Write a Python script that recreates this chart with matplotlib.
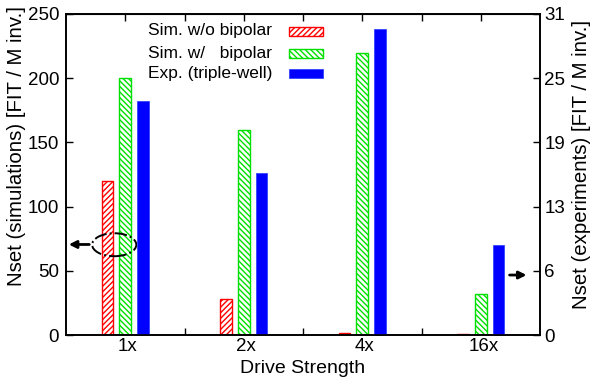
import matplotlib
matplotlib.use("Agg")
import matplotlib.pyplot as plt
from matplotlib.patches import Ellipse, Rectangle
import matplotlib.transforms as mtransforms
import numpy as np

plt.rcParams['font.family'] = ['Liberation Sans', 'DejaVu Sans']
plt.rcParams['font.size'] = 14
plt.rcParams['hatch.linewidth'] = 1.0

categories = ["1x", "2x", "4x", "16x"]
sim_wo_bipolar = [120, 28, 1.3, 0.4]
sim_w_bipolar = [200, 160, 220, 32]
exp_triple_well = [22.8, 15.75, 29.75, 8.75]
right_tick_labels = ["0", "6", "13", "19", "25", "31"]
legend_labels = ["Sim. w/o bipolar", "Sim. w/   bipolar", "Exp. (triple-well)"]

W, H = 590, 383
fig = plt.figure(figsize=(W / 100, H / 100), dpi=100)
ax = fig.add_axes([66 / W, 1 - 335 / H, 474 / W, 321 / H])
ax2 = ax.twinx()

x = np.arange(len(categories))
off = 0.15
w = 0.10

red_style = dict(facecolor='white', edgecolor='#ff0000', hatch='//////', linewidth=1.0)
green_style = dict(facecolor='white', edgecolor='#00e000', hatch='\\\\\\\\\\\\', linewidth=1.0)
blue_style = dict(facecolor='#0000ff', edgecolor='#3344ff', linewidth=0.6)

ax.bar(x - off, sim_wo_bipolar, w, **red_style)
ax.bar(x, sim_w_bipolar, w, **green_style)
ax2.bar(x + off, exp_triple_well, w, **blue_style)

ax.set_xlim(-0.5, 3.5)
ax.set_ylim(0, 250)
ax2.set_ylim(0, 31.25)

TL = 13.5
ax.set_yticks(np.arange(0, 251, 50))
ax.tick_params(axis='y', direction='in', length=5, width=1, labelsize=TL, pad=5)
ax2.set_yticks(np.linspace(0, 31.25, 6))
ax2.set_yticklabels(right_tick_labels)
ax2.tick_params(axis='y', direction='in', length=5, width=1, labelsize=TL, pad=3)

ax.set_xticks(x)
ax.set_xticklabels(categories)
ax.tick_params(axis='x', which='major', length=0, pad=2.5, labelsize=TL)
shift = mtransforms.ScaledTranslation(2.5 / 100, 0, fig.dpi_scale_trans)
for lab in ax.get_xticklabels():
    lab.set_transform(lab.get_transform() + shift)
ax.set_xticks([0.5, 1.5, 2.5], minor=True)
ax.tick_params(axis='x', which='minor', direction='in', length=5, width=1)
ax.tick_params(axis='y', which='minor', left=False)

secx = ax.secondary_xaxis('top')
secx.set_xticks(np.arange(0, 3.01, 0.5))
secx.set_xticklabels([])
secx.tick_params(direction='in', length=5, width=1)

for a in (ax, ax2):
    for s in a.spines.values():
        s.set_linewidth(1.2)

ax.set_xlabel("Drive Strength", fontsize=14, labelpad=3)
ax.set_ylabel("Nset (simulations) [FIT / M inv.]", fontsize=14.7)
ax.yaxis.set_label_coords(-0.084, 0.589)
ax2.set_ylabel("Nset (experiments) [FIT / M inv.]", fontsize=14.7)
ax2.yaxis.set_label_coords(1.068, 0.53)

# gnuplot-style legend: right-aligned text, sample box to the right
row_y = [31.0, 53.5, 73.5]
styles = [red_style, green_style, blue_style]
for lbl, yy, st in zip(legend_labels, row_y, styles):
    fig.text(272 / W, 1 - yy / H, lbl, ha='right', va='center', fontsize=12.5)
    r = Rectangle((288.5 / W, 1 - (yy + 4.5) / H), 34 / W, 9 / H,
                  transform=fig.transFigure, **st)
    fig.add_artist(r)

ell = Ellipse((-0.093, 70.3), 0.373, 17.9, fill=False, linestyle='-.', linewidth=1.4,
              edgecolor='black', zorder=5)
ax.add_patch(ell)
ax.annotate('', xy=(-0.5, 70.5), xytext=(-0.28, 70.5),
            arrowprops=dict(arrowstyle='-|>', color='black', lw=2, mutation_scale=11),
            annotation_clip=False)
ax.annotate('', xy=(3.41, 46.7), xytext=(3.22, 46.7),
            arrowprops=dict(arrowstyle='-|>', color='black', lw=2, mutation_scale=11),
            annotation_clip=False)

fig.savefig("out.png", dpi=100)
